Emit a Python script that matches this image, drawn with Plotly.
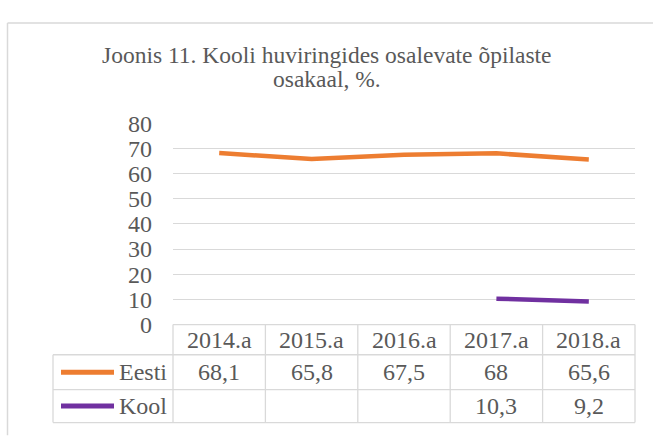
import plotly.graph_objects as go

categories = ["2014.a", "2015.a", "2016.a", "2017.a", "2018.a"]
eesti = [68.1, 65.8, 67.5, 68, 65.6]
kool = [None, None, None, 10.3, 9.2]
eesti_labels = ["68,1", "65,8", "67,5", "68", "65,6"]
kool_labels = ["", "", "", "10,3", "9,2"]
y_ticks = [0, 10, 20, 30, 40, 50, 60, 70, 80]
title_lines = ["Joonis 11. Kooli huviringides osalevate õpilaste", "osakaal, %."]

W, H = 653, 444
FONT = "Times New Roman, Liberation Serif, DejaVu Serif, serif"
TXT = "#595959"
GRID = "#d9d9d9"
ORANGE = "#ED7D31"
PURPLE = "#7030A0"

PL, PR = 173, 635
PT, PB = 117, 331
R1, R2, R3 = 363, 400, 435
LEG_L = 53

def px(x):
    return x / W

def py(y):
    return 1 - y / H

fig = go.Figure()
fig.add_trace(go.Scatter(x=list(range(5)), y=eesti, mode="lines", name="Eesti",
                         line=dict(color=ORANGE, width=4.5), hoverinfo="skip"))
fig.add_trace(go.Scatter(x=list(range(5)), y=kool, mode="lines", name="Kool",
                         line=dict(color=PURPLE, width=4.5), hoverinfo="skip"))

shapes = []
annotations = []
line_style = dict(color=GRID, width=1.3)
# outer chart border
shapes.append(dict(type="line", xref="paper", yref="paper", x0=px(7.5), x1=1.01, y0=py(10.5), y1=py(10.5), line=dict(color=GRID, width=1.5)))
shapes.append(dict(type="line", xref="paper", yref="paper", x0=px(7.5), x1=px(7.5), y0=py(10.5), y1=-0.01, line=dict(color=GRID, width=1.5)))
# data table grid
shapes.append(dict(type="line", xref="paper", yref="paper", x0=px(PL), x1=px(PR), y0=py(PB), y1=py(PB), line=line_style))
for yy in (R1, R2, R3):
    shapes.append(dict(type="line", xref="paper", yref="paper", x0=px(LEG_L), x1=px(PR), y0=py(yy), y1=py(yy), line=line_style))
ncol = len(categories)
for i in range(ncol + 1):
    xx = PL + (PR - PL) * i / ncol
    shapes.append(dict(type="line", xref="paper", yref="paper", x0=px(xx), x1=px(xx), y0=py(PB), y1=py(R3), line=line_style))
shapes.append(dict(type="line", xref="paper", yref="paper", x0=px(LEG_L), x1=px(LEG_L), y0=py(R1), y1=py(R3), line=line_style))
# legend keys
for yy, col in (((R1 + R2) / 2, ORANGE), ((R2 + R3) / 2, PURPLE)):
    shapes.append(dict(type="line", xref="paper", yref="paper", x0=px(61), x1=px(114), y0=py(yy), y1=py(yy), line=dict(color=col, width=5)))

fs = 24
for i, c in enumerate(categories):
    annotations.append(dict(x=i, xref="x", y=py((PB + R1) / 2), yref="paper", text=c, showarrow=False,
                            font=dict(family=FONT, size=fs, color=TXT), xanchor="center", yanchor="middle"))
    annotations.append(dict(x=i, xref="x", y=py((R1 + R2) / 2), yref="paper", text=eesti_labels[i], showarrow=False,
                            font=dict(family=FONT, size=fs, color=TXT), xanchor="center", yanchor="middle"))
    if kool_labels[i]:
        annotations.append(dict(x=i, xref="x", y=py((R2 + R3) / 2), yref="paper", text=kool_labels[i], showarrow=False,
                                font=dict(family=FONT, size=fs, color=TXT), xanchor="center", yanchor="middle"))
for name, yy in (("Eesti", (R1 + R2) / 2), ("Kool", (R2 + R3) / 2)):
    annotations.append(dict(x=px(117), xref="paper", y=py(yy), yref="paper", text=name, showarrow=False,
                            font=dict(family=FONT, size=fs, color=TXT), xanchor="left", yanchor="middle"))
for txt, yy in zip(title_lines, (45, 70)):
    annotations.append(dict(x=px(327), xref="paper", y=py(yy), yref="paper", text=txt, showarrow=False,
                            font=dict(family=FONT, size=23.5, color=TXT), xanchor="center", yanchor="middle"))

fig.update_layout(
    width=W, height=H,
    margin=dict(l=0, r=0, t=0, b=0),
    paper_bgcolor="white", plot_bgcolor="white",
    showlegend=False,
    font=dict(family=FONT, color=TXT),
    shapes=shapes, annotations=annotations,
    xaxis=dict(domain=[px(PL), px(PR)], range=[-0.5, 4.5], showticklabels=False, showgrid=False,
               zeroline=False, showline=False, fixedrange=True),
    yaxis=dict(domain=[py(PB), py(PT)], range=[0, 80], tickvals=y_ticks, showgrid=True, gridcolor=GRID,
               gridwidth=1.3, zeroline=False, showline=False, ticks="",
               ticklabelstandoff=20,
               tickfont=dict(family=FONT, size=fs, color=TXT), fixedrange=True),
)

fig.write_html("out.html", config={"displayModeBar": False},
               post_script="document.body.style.margin='0';document.body.style.padding='0';")
